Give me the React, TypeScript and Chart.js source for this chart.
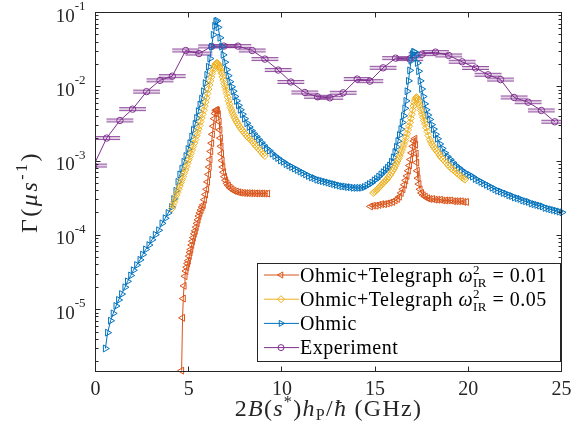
import React, { useEffect, useRef } from "react";
import { Chart, registerables } from "chart.js";

Chart.register(...registerables);

// ---------------- data ----------------
const xTicks = [0, 5, 10, 15, 20, 25];
const yMajorTicks = [1e-5, 1e-4, 1e-3, 1e-2, 1e-1];
const yMajorExp = ["-5", "-4", "-3", "-2", "-1"];
const xRange = [0, 25];
const yRange = [1.47e-6, 0.1];

const seriesNames = ["Ohmic+Telegraph", "Ohmic+Telegraph", "Ohmic", "Experiment"];
const omegaValues = ["0.01", "0.05"];

const expX = [-0.1, 0.6, 1.31, 1.99, 2.74, 3.46, 4.12, 4.84, 5.55, 6.23, 6.89, 7.64, 8.41, 9.09, 9.8, 10.48, 11.23, 11.91, 12.57, 13.29, 14.04, 14.72, 15.43, 16.1, 16.86, 17.52, 18.24, 18.95, 19.67, 20.39, 21.06, 21.73, 22.46, 23.21, 23.92, 24.64];
const expY = [8.7e-4, 2.04e-3, 3.52e-3, 5.0e-3, 8.6e-3, 1.22e-2, 1.39e-2, 3.08e-2, 2.8e-2, 3.49e-2, 3.53e-2, 3.53e-2, 3.08e-2, 2.36e-2, 1.68e-2, 1.16e-2, 8.38e-3, 7.33e-3, 7.1e-3, 8.3e-3, 1.27e-2, 1.19e-2, 1.8e-2, 2.43e-2, 2.36e-2, 2.75e-2, 2.93e-2, 2.64e-2, 2.17e-2, 1.79e-2, 1.45e-2, 1.25e-2, 7.18e-3, 6.2e-3, 4.8e-3, 3.38e-3];
const expErrX = [0.72, 0.72, 0.72, 0.72, 0.72, 0.72, 0.72, 0.72, 0.72, 0.72, 0.72, 0.72, 0.72, 0.72, 0.72, 0.72, 0.72, 0.72, 0.72, 0.72, 0.72, 0.72, 0.72, 0.72, 0.72, 0.72, 0.72, 0.72, 0.72, 0.72, 0.72, 0.72, 0.72, 0.72, 0.72, 0.72];

const ohmicPts: [number, number][] = [
  [0.53, 3.0e-6], [0.65, 4.9e-6], [0.81, 7.1e-6], [0.95, 8.9e-6], [1.1, 1.12e-5], [1.24, 1.35e-5], [1.4, 1.62e-5], [1.58, 2.0e-5], [1.72, 2.4e-5], [1.89, 2.88e-5], [2.03, 3.39e-5], [2.21, 3.98e-5], [2.39, 4.68e-5], [2.53, 5.5e-5], [2.69, 6.46e-5], [2.87, 7.41e-5], [3.03, 8.71e-5], [3.21, 1.02e-4], [3.39, 1.17e-4], [3.57, 1.45e-4], [3.74, 1.7e-4], [3.9, 2.0e-4], [4.08, 2.4e-4],
  [4.2, 3.09e-4], [4.32, 3.98e-4], [4.43, 5.25e-4], [4.53, 6.61e-4], [4.64, 7.94e-4], [4.75, 9.77e-4], [4.86, 1.17e-3], [4.97, 1.45e-3], [5.07, 1.74e-3], [5.17, 2.14e-3], [5.26, 2.63e-3], [5.35, 3.16e-3], [5.43, 3.8e-3], [5.52, 4.68e-3], [5.61, 5.75e-3], [5.7, 6.92e-3], [5.8, 8.71e-3], [5.89, 1.12e-2], [5.98, 1.45e-2], [6.06, 1.86e-2], [6.14, 2.4e-2], [6.23, 3.47e-2], [6.32, 5.01e-2], [6.4, 6.61e-2], [6.46, 7.59e-2], [6.52, 7.76e-2],
  [6.58, 6.31e-2], [6.68, 4.57e-2], [6.77, 3.47e-2], [6.85, 2.69e-2], [6.94, 2.14e-2], [7.03, 1.7e-2], [7.12, 1.41e-2], [7.21, 1.17e-2], [7.3, 1.0e-2], [7.39, 8.71e-3], [7.48, 7.41e-3], [7.57, 6.46e-3], [7.67, 5.62e-3], [7.77, 4.9e-3], [7.88, 4.27e-3], [8.0, 3.72e-3], [8.12, 3.24e-3], [8.25, 2.88e-3], [8.37, 2.57e-3], [8.5, 2.34e-3], [8.63, 2.14e-3], [8.76, 1.95e-3], [8.9, 1.78e-3], [9.04, 1.62e-3], [9.18, 1.48e-3], [9.33, 1.38e-3], [9.48, 1.26e-3], [9.63, 1.17e-3], [9.78, 1.1e-3], [9.93, 1.02e-3],
  [10.08, 9.77e-4], [10.23, 9.12e-4], [10.38, 8.71e-4], [10.53, 8.32e-4], [10.68, 7.94e-4], [10.83, 7.59e-4], [10.98, 7.24e-4], [11.13, 6.92e-4], [11.28, 6.61e-4], [11.43, 6.31e-4], [11.58, 6.03e-4], [11.73, 5.89e-4], [11.88, 5.62e-4], [12.03, 5.5e-4], [12.18, 5.37e-4], [12.33, 5.25e-4], [12.48, 5.13e-4], [12.63, 5.01e-4], [12.78, 4.9e-4], [12.93, 4.79e-4], [13.08, 4.68e-4], [13.23, 4.57e-4], [13.38, 4.55e-4], [13.53, 4.47e-4], [13.68, 4.45e-4], [13.83, 4.37e-4], [13.98, 4.36e-4], [14.13, 4.36e-4], [14.28, 4.37e-4], [14.43, 4.47e-4], [14.57, 4.68e-4], [14.7, 4.9e-4], [14.83, 5.13e-4], [14.96, 5.5e-4],
  [15.08, 5.75e-4], [15.2, 6.17e-4], [15.32, 6.61e-4], [15.44, 7.08e-4], [15.56, 7.59e-4], [15.67, 8.13e-4], [15.78, 8.71e-4], [15.88, 9.77e-4], [15.98, 1.12e-3], [16.07, 1.32e-3], [16.15, 1.55e-3], [16.23, 1.86e-3], [16.31, 2.24e-3], [16.39, 2.69e-3], [16.46, 3.31e-3], [16.53, 4.07e-3], [16.6, 5.13e-3], [16.66, 6.46e-3], [16.72, 8.71e-3], [16.79, 1.2e-2], [16.86, 1.66e-2], [16.93, 2.24e-2], [17.0, 2.75e-2], [17.07, 2.95e-2], [17.13, 2.93e-2],
  [17.2, 2.63e-2], [17.27, 2.09e-2], [17.34, 1.62e-2], [17.42, 1.2e-2], [17.5, 9.33e-3], [17.58, 7.41e-3], [17.66, 5.89e-3], [17.74, 4.9e-3], [17.83, 4.17e-3], [17.93, 3.63e-3], [18.03, 3.09e-3], [18.13, 2.69e-3], [18.24, 2.29e-3], [18.35, 2.0e-3], [18.47, 1.7e-3], [18.6, 1.48e-3], [18.74, 1.29e-3], [18.88, 1.15e-3], [19.03, 1.05e-3], [19.18, 9.55e-4], [19.33, 8.71e-4], [19.48, 8.13e-4], [19.63, 7.59e-4], [19.78, 7.08e-4], [19.93, 6.76e-4],
  [20.08, 6.46e-4], [20.23, 6.17e-4], [20.38, 5.75e-4], [20.53, 5.5e-4], [20.68, 5.25e-4], [20.83, 5.01e-4], [20.98, 4.79e-4], [21.13, 4.57e-4], [21.28, 4.37e-4], [21.43, 4.17e-4], [21.58, 3.98e-4], [21.73, 3.89e-4], [21.88, 3.72e-4], [22.03, 3.63e-4], [22.18, 3.47e-4], [22.33, 3.39e-4], [22.48, 3.24e-4], [22.63, 3.16e-4], [22.78, 3.09e-4], [22.93, 2.95e-4], [23.08, 2.88e-4], [23.23, 2.82e-4], [23.38, 2.69e-4], [23.53, 2.63e-4], [23.68, 2.57e-4], [23.83, 2.51e-4], [23.98, 2.45e-4], [24.13, 2.34e-4], [24.28, 2.29e-4], [24.43, 2.24e-4], [24.58, 2.19e-4], [24.73, 2.14e-4], [24.88, 2.09e-4], [25.03, 2.04e-4],
];

const tel05PtsA: [number, number][] = [
  [4.1, 2.29e-4], [4.16, 2.55e-4], [4.22, 2.82e-4], [4.28, 3.13e-4], [4.34, 3.47e-4], [4.4, 3.8e-4], [4.46, 4.17e-4], [4.52, 4.62e-4], [4.58, 5.13e-4], [4.64, 5.62e-4], [4.7, 6.17e-4], [4.76, 6.84e-4], [4.82, 7.59e-4], [4.88, 8.41e-4], [4.94, 9.33e-4], [5.0, 1.04e-3], [5.06, 1.15e-3], [5.12, 1.27e-3], [5.18, 1.41e-3], [5.24, 1.57e-3], [5.3, 1.74e-3], [5.36, 1.95e-3], [5.42, 2.19e-3], [5.48, 2.43e-3], [5.53, 2.69e-3], [5.59, 3.02e-3], [5.64, 3.39e-3], [5.7, 3.8e-3], [5.75, 4.27e-3], [5.81, 4.84e-3], [5.86, 5.5e-3], [5.91, 6.24e-3], [5.96, 7.08e-3], [6.01, 8.13e-3], [6.06, 9.33e-3], [6.11, 1.06e-2], [6.16, 1.2e-2], [6.21, 1.35e-2], [6.26, 1.51e-2], [6.31, 1.67e-2], [6.36, 1.82e-2], [6.41, 1.95e-2], [6.45, 2.04e-2], [6.49, 2.08e-2], [6.53, 2.09e-2],
  [6.57, 2.04e-2], [6.61, 1.95e-2], [6.65, 1.85e-2], [6.69, 1.74e-2], [6.73, 1.62e-2], [6.77, 1.51e-2], [6.82, 1.36e-2], [6.86, 1.23e-2], [6.91, 1.1e-2], [6.95, 1.0e-2], [7.0, 9.0e-3], [7.04, 8.13e-3], [7.09, 7.24e-3], [7.14, 6.46e-3], [7.19, 5.82e-3], [7.24, 5.25e-3], [7.3, 4.84e-3], [7.35, 4.47e-3], [7.41, 4.11e-3], [7.47, 3.8e-3], [7.53, 3.54e-3], [7.6, 3.31e-3], [7.67, 3.08e-3], [7.74, 2.88e-3], [7.81, 2.72e-3], [7.89, 2.57e-3], [7.97, 2.42e-3], [8.05, 2.29e-3], [8.13, 2.16e-3], [8.21, 2.04e-3], [8.3, 1.95e-3], [8.38, 1.86e-3], [8.46, 1.76e-3], [8.55, 1.66e-3], [8.63, 1.57e-3], [8.72, 1.48e-3], [8.81, 1.4e-3], [8.9, 1.32e-3], [8.99, 1.24e-3], [9.08, 1.17e-3],
];
const tel05PtsB: [number, number][] = [
  [14.9, 3.72e-4], [14.97, 3.85e-4], [15.05, 3.98e-4], [15.12, 4.17e-4], [15.2, 4.37e-4], [15.27, 4.57e-4], [15.35, 4.79e-4], [15.42, 5.01e-4], [15.5, 5.25e-4], [15.57, 5.5e-4], [15.65, 5.75e-4], [15.72, 6.1e-4], [15.8, 6.46e-4], [15.87, 6.92e-4], [15.94, 7.41e-4], [16.01, 7.94e-4], [16.07, 8.51e-4], [16.14, 9.23e-4], [16.2, 1.0e-3], [16.26, 1.08e-3], [16.32, 1.17e-3], [16.38, 1.29e-3], [16.44, 1.41e-3], [16.5, 1.55e-3], [16.55, 1.7e-3], [16.61, 1.88e-3], [16.66, 2.09e-3], [16.72, 2.34e-3], [16.77, 2.63e-3], [16.82, 2.95e-3], [16.87, 3.31e-3], [16.92, 3.76e-3], [16.97, 4.27e-3], [17.02, 4.86e-3], [17.06, 5.5e-3], [17.1, 6.1e-3], [17.14, 6.61e-3], [17.18, 7.0e-3], [17.22, 7.24e-3],
  [17.26, 7.1e-3], [17.3, 6.76e-3], [17.34, 6.26e-3], [17.38, 5.75e-3], [17.43, 5.25e-3], [17.47, 4.79e-3], [17.52, 4.3e-3], [17.57, 3.89e-3], [17.62, 3.5e-3], [17.68, 3.16e-3], [17.74, 2.82e-3], [17.8, 2.51e-3], [17.86, 2.21e-3], [17.93, 1.95e-3], [18.0, 1.8e-3], [18.07, 1.66e-3], [18.15, 1.55e-3], [18.22, 1.45e-3], [18.3, 1.37e-3], [18.38, 1.29e-3], [18.46, 1.2e-3], [18.55, 1.12e-3], [18.64, 1.06e-3], [18.73, 1.0e-3], [18.82, 9.44e-4], [18.91, 8.91e-4], [19.0, 8.41e-4], [19.1, 7.94e-4], [19.19, 7.59e-4], [19.29, 7.24e-4], [19.38, 6.92e-4], [19.48, 6.61e-4], [19.57, 6.31e-4], [19.66, 6.03e-4], [19.74, 5.82e-4], [19.82, 5.62e-4],
];

const tel01PtsA: [number, number][] = [
  [4.62, 1.51e-6], [4.67, 7.76e-6], [4.71, 1.41e-5], [4.75, 2.09e-5], [4.8, 2.82e-5], [4.85, 3.31e-5], [4.89, 3.72e-5], [4.94, 4.17e-5], [4.98, 4.57e-5], [5.03, 5.25e-5], [5.07, 5.89e-5], [5.11, 6.46e-5], [5.16, 7.41e-5], [5.2, 8.32e-5], [5.25, 9.33e-5], [5.3, 1.05e-4], [5.35, 1.15e-4], [5.4, 1.29e-4], [5.45, 1.45e-4], [5.5, 1.62e-4], [5.55, 1.82e-4], [5.6, 2.0e-4], [5.66, 2.19e-4], [5.72, 2.4e-4], [5.78, 2.57e-4], [5.84, 3.02e-4], [5.9, 3.55e-4], [5.96, 4.17e-4], [6.01, 5.25e-4], [6.06, 6.61e-4], [6.1, 8.32e-4], [6.14, 1.05e-3], [6.18, 1.35e-3], [6.23, 1.74e-3], [6.27, 2.29e-3], [6.32, 2.95e-3], [6.37, 3.72e-3], [6.41, 4.37e-3], [6.45, 4.79e-3], [6.49, 4.9e-3],
  [6.54, 4.79e-3], [6.59, 4.27e-3], [6.63, 3.39e-3], [6.67, 2.63e-3], [6.7, 2.04e-3], [6.73, 1.58e-3], [6.76, 1.26e-3], [6.79, 1.02e-3], [6.83, 8.32e-4], [6.87, 7.08e-4], [6.92, 6.17e-4], [6.98, 5.5e-4], [7.05, 5.01e-4], [7.13, 4.68e-4], [7.22, 4.37e-4], [7.32, 4.17e-4], [7.43, 3.98e-4], [7.55, 3.89e-4], [7.67, 3.8e-4], [7.8, 3.75e-4], [7.93, 3.72e-4], [8.06, 3.7e-4], [8.19, 3.7e-4], [8.32, 3.68e-4], [8.45, 3.68e-4], [8.58, 3.67e-4], [8.71, 3.67e-4], [8.84, 3.66e-4], [8.97, 3.66e-4], [9.1, 3.65e-4], [9.23, 3.65e-4],
];
const tel01PtsB: [number, number][] = [
  [14.75, 2.45e-4], [14.9, 2.51e-4], [15.05, 2.51e-4], [15.2, 2.57e-4], [15.35, 2.63e-4], [15.5, 2.63e-4], [15.65, 2.69e-4], [15.8, 2.75e-4], [15.94, 2.82e-4], [16.07, 2.95e-4], [16.19, 3.09e-4], [16.3, 3.31e-4], [16.4, 3.72e-4], [16.49, 4.17e-4], [16.57, 4.79e-4], [16.64, 5.5e-4], [16.71, 6.31e-4], [16.78, 7.41e-4], [16.84, 8.71e-4], [16.9, 1.05e-3], [16.96, 1.29e-3], [17.02, 1.58e-3], [17.08, 1.86e-3], [17.13, 2.0e-3],
  [17.17, 1.66e-3], [17.2, 1.26e-3], [17.23, 9.55e-4], [17.26, 7.41e-4], [17.3, 5.89e-4], [17.35, 4.9e-4], [17.41, 4.17e-4], [17.49, 3.72e-4], [17.58, 3.47e-4], [17.69, 3.31e-4], [17.81, 3.16e-4], [17.94, 3.09e-4], [18.08, 3.09e-4], [18.22, 3.02e-4], [18.36, 3.02e-4], [18.5, 3.02e-4], [18.64, 2.95e-4], [18.78, 2.95e-4], [18.92, 2.95e-4], [19.06, 2.95e-4], [19.2, 2.88e-4], [19.34, 2.88e-4], [19.48, 2.88e-4], [19.62, 2.88e-4], [19.76, 2.82e-4], [19.9, 2.82e-4],
];

// ---------------- styles ----------------
const RED = "#D95319";
const YELLOW = "#EDB120";
const BLUE = "#0072BD";
const PURPLE = "#7E2F8E";
const AXIS = "#262626";
const SERIF = '"Liberation Serif", "Times New Roman", serif';

type Run = { t: string; s: number; it?: boolean; dy?: number; keep?: boolean };

function runFont(r: Run) {
  return `${r.it ? "italic " : ""}${r.s}px ${SERIF}`;
}
function runsWidth(ctx: CanvasRenderingContext2D, runs: Run[]) {
  let w = 0;
  for (const r of runs) {
    ctx.font = runFont(r);
    if (!r.keep) w += ctx.measureText(r.t).width;
  }
  return w;
}
function drawRuns(ctx: CanvasRenderingContext2D, runs: Run[], x: number, y: number) {
  let cx = x;
  for (const r of runs) {
    ctx.font = runFont(r);
    ctx.fillText(r.t, cx, y + (r.dy || 0));
    if (!r.keep) cx += ctx.measureText(r.t).width;
  }
}

function drawMarker(ctx: CanvasRenderingContext2D, kind: string, x: number, y: number, r: number, color: string) {
  ctx.beginPath();
  if (kind === "circle") ctx.arc(x, y, r, 0, Math.PI * 2);
  else if (kind === "diamond") {
    ctx.moveTo(x, y - r); ctx.lineTo(x + r, y); ctx.lineTo(x, y + r); ctx.lineTo(x - r, y); ctx.closePath();
  } else if (kind === "right") {
    ctx.moveTo(x + r, y); ctx.lineTo(x - r / 2, y - r * 0.866); ctx.lineTo(x - r / 2, y + r * 0.866); ctx.closePath();
  } else {
    ctx.moveTo(x - r, y); ctx.lineTo(x + r / 2, y - r * 0.866); ctx.lineTo(x + r / 2, y + r * 0.866); ctx.closePath();
  }
  ctx.strokeStyle = color;
  ctx.lineWidth = 1;
  ctx.stroke();
}

const toXY = (pts: [number, number][]) => pts.map(([x, y]) => ({ x, y }));

const matlabPlugin = {
  id: "matlabAxes",
  beforeDatasetsDraw(chart: any) {
    const { ctx, chartArea: ca, scales } = chart;
    const xs = scales.x, ys = scales.y;
    ctx.save();
    ctx.beginPath();
    ctx.rect(ca.left, ca.top, ca.right - ca.left, ca.bottom - ca.top);
    ctx.clip();
    expX.forEach((xv, i) => {
      const py = ys.getPixelForValue(expY[i]);
      const x0 = xs.getPixelForValue(xv - expErrX[i]);
      const x1 = xs.getPixelForValue(xv + expErrX[i]);
      ctx.fillStyle = "rgba(126,47,142,0.22)";
      ctx.fillRect(x0, py - 1.5, x1 - x0, 3);
      ctx.strokeStyle = "rgba(126,47,142,0.8)";
      ctx.lineWidth = 1;
      for (const d of [-1.5, 1.5]) {
        ctx.beginPath(); ctx.moveTo(x0, py + d); ctx.lineTo(x1, py + d); ctx.stroke();
      }
    });
    ctx.restore();
  },
  afterDraw(chart: any) {
    const { ctx, chartArea: ca, scales } = chart;
    const xs = scales.x, ys = scales.y;
    const L = Math.floor(ca.left) + 0.5, R = Math.floor(ca.right) + 0.5;
    const T = Math.floor(ca.top) + 0.5, B = Math.floor(ca.bottom) + 0.5;
    ctx.save();
    ctx.strokeStyle = AXIS;
    ctx.lineWidth = 1;
    ctx.strokeRect(L, T, R - L, B - T);

    // x ticks
    ctx.beginPath();
    for (const v of xTicks) {
      const px = Math.floor(xs.getPixelForValue(v)) + 0.5;
      ctx.moveTo(px, B); ctx.lineTo(px, B - 5);
      ctx.moveTo(px, T); ctx.lineTo(px, T + 5);
    }
    // y ticks (major + minor)
    for (const v of yMajorTicks) {
      const py = Math.floor(ys.getPixelForValue(v)) + 0.5;
      ctx.moveTo(L, py); ctx.lineTo(L + 5, py);
      ctx.moveTo(R, py); ctx.lineTo(R - 5, py);
    }
    for (let e = -6; e <= -2; e++) {
      for (let k = 2; k <= 9; k++) {
        const v = k * Math.pow(10, e);
        if (v < yRange[0] || v > yRange[1]) continue;
        const py = Math.floor(ys.getPixelForValue(v)) + 0.5;
        ctx.moveTo(L, py); ctx.lineTo(L + 3, py);
        ctx.moveTo(R, py); ctx.lineTo(R - 3, py);
      }
    }
    ctx.stroke();

    // tick labels
    ctx.fillStyle = AXIS;
    ctx.textBaseline = "alphabetic";
    ctx.textAlign = "center";
    ctx.font = `20px ${SERIF}`;
    for (const v of xTicks) {
      ctx.fillText(String(v), xs.getPixelForValue(v), 395);
    }
    ctx.textAlign = "left";
    yMajorTicks.forEach((v, i) => {
      const py = ys.getPixelForValue(v);
      const runs: Run[] = [{ t: "10", s: 19 }, { t: yMajorExp[i], s: 13, dy: -11.5 }];
      const w = runsWidth(ctx, runs);
      drawRuns(ctx, runs, 85.5 - w, py + 9);
    });

    // axis titles
    const xt: Run[] = [
      { t: "2", s: 24 }, { t: "B", s: 24, it: true }, { t: "(", s: 24 }, { t: "s", s: 24, it: true },
      { t: "*", s: 16, dy: -9 }, { t: ")", s: 24 }, { t: "h", s: 24, it: true }, { t: "P", s: 16, dy: 4 },
      { t: "/", s: 24 }, { t: "ħ", s: 24, it: true }, { t: " (GHz)", s: 24 },
    ];
    (ctx as any).letterSpacing = "1.3px";
    const xw = runsWidth(ctx, xt);
    drawRuns(ctx, xt, (L + R) / 2 - xw / 2, 416);

    const yt: Run[] = [
      { t: "Γ", s: 24 }, { t: "(", s: 24 }, { t: "μs", s: 24, it: true }, { t: "-1", s: 16, dy: -10 }, { t: ")", s: 24 },
    ];
    (ctx as any).letterSpacing = "2.5px";
    const yw = runsWidth(ctx, yt);
    ctx.save();
    ctx.translate(37, (T + B) / 2);
    ctx.rotate(-Math.PI / 2);
    drawRuns(ctx, yt, -yw / 2, 0);
    ctx.restore();

    // legend
    (ctx as any).letterSpacing = "0px";
    const lx = 257.5, ly = 263.5, lw = 303, lh = 98;
    ctx.fillStyle = "#fff";
    ctx.fillRect(lx, ly, lw, lh);
    ctx.strokeStyle = AXIS;
    ctx.strokeRect(lx, ly, lw, lh);
    const rows = [
      { c: RED, k: "left", runs: [{ t: seriesNames[0] + " ", s: 20 }, { t: "ω", s: 20, it: true }, { t: "2", s: 13, dy: -8, keep: true }, { t: "IR", s: 13, dy: 5 }, { t: " = " + omegaValues[0], s: 20 }] as Run[] },
      { c: YELLOW, k: "diamond", runs: [{ t: seriesNames[1] + " ", s: 20 }, { t: "ω", s: 20, it: true }, { t: "2", s: 13, dy: -8, keep: true }, { t: "IR", s: 13, dy: 5 }, { t: " = " + omegaValues[1], s: 20 }] as Run[] },
      { c: BLUE, k: "right", runs: [{ t: seriesNames[2], s: 20 }] as Run[] },
      { c: PURPLE, k: "circle", runs: [{ t: seriesNames[3], s: 20 }] as Run[] },
    ];
    rows.forEach((row, i) => {
      const yc = 275 + i * 24.2;
      ctx.strokeStyle = row.c;
      ctx.lineWidth = 1;
      ctx.beginPath(); ctx.moveTo(264, yc); ctx.lineTo(299, yc); ctx.stroke();
      drawMarker(ctx, row.k, 281, yc, row.k === "circle" ? 3 : 3.5, row.c);
      ctx.fillStyle = "#000";
      (ctx as any).letterSpacing = "0.5px";
      drawRuns(ctx, row.runs, 300, yc + 6.5);
      (ctx as any).letterSpacing = "0px";
    });
    ctx.restore();
  },
};

export default function App() {
  const ref = useRef<HTMLCanvasElement>(null);
  useEffect(() => {
    const canvas = ref.current!;
    const lineDs = (label: string, pts: [number, number][], color: string, style: string, rot: number, r: number, clip: any) => ({
      label,
      data: toXY(pts),
      borderColor: color,
      backgroundColor: color,
      borderWidth: 1,
      pointStyle: style,
      pointRotation: rot,
      pointRadius: r,
      pointBorderWidth: 1,
      pointBorderColor: color,
      pointBackgroundColor: "rgba(0,0,0,0)",
      tension: 0,
      clip,
    });
    const expPts: [number, number][] = expX.map((x, i) => [x, expY[i]]);
    const chart = new Chart(canvas, {
      type: "line",
      data: {
        datasets: [
          lineDs(seriesNames[0], tel01PtsA, RED, "triangle", -90, 4, 8),
          lineDs(seriesNames[0], tel01PtsB, RED, "triangle", -90, 4, 8),
          lineDs(seriesNames[1], tel05PtsA, YELLOW, "rectRot", 0, 3.5, 8),
          lineDs(seriesNames[1], tel05PtsB, YELLOW, "rectRot", 0, 3.5, 8),
          lineDs(seriesNames[2], ohmicPts, BLUE, "triangle", 90, 4, 8),
          lineDs(seriesNames[3], expPts, PURPLE, "circle", 0, 3.2, 0),
        ] as any,
      },
      options: {
        responsive: false,
        animation: false,
        devicePixelRatio: 1,
        events: [],
        layout: { padding: { left: 95.5, right: 24.5, top: 12.5, bottom: 62.5 } },
        scales: {
          x: { type: "linear", min: xRange[0], max: xRange[1], display: false },
          y: { type: "logarithmic", min: yRange[0], max: yRange[1], display: false },
        },
        plugins: { legend: { display: false }, tooltip: { enabled: false }, title: { display: false } },
      } as any,
      plugins: [matlabPlugin],
    });
    return () => chart.destroy();
  }, []);
  return (
    <div style={{ position: "absolute", left: 0, top: 0, width: 586, height: 434, background: "#fff" }}>
      <canvas ref={ref} width={586} height={434} style={{ display: "block", width: 586, height: 434 }} />
    </div>
  );
}
